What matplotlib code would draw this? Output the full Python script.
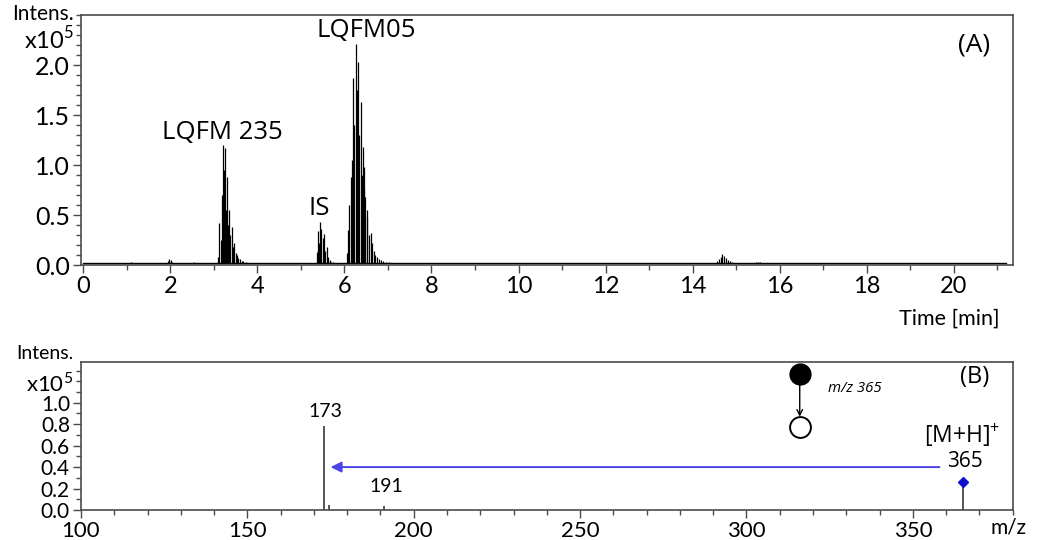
import matplotlib
matplotlib.use("Agg")
import matplotlib.pyplot as plt
from matplotlib.ticker import MultipleLocator

# ---------------- data (A) chromatogram, intensities in 1e5 ----------------
baseline_level = 0.022
trace_start, trace_end = 0.0, 21.2

minor_times = [1.10, 1.95, 1.98, 2.01, 2.04, 2.55, 14.55, 14.60, 14.64, 14.68,
               14.72, 14.76, 14.80, 14.85, 14.90, 15.45, 15.50, 15.55]
minor_vals = [0.030, 0.045, 0.060, 0.050, 0.035, 0.030, 0.045, 0.060, 0.080, 0.110,
              0.090, 0.070, 0.055, 0.040, 0.032, 0.030, 0.032, 0.030]

lqfm235_times = [3.10, 3.13, 3.16, 3.19, 3.22, 3.24, 3.26, 3.28, 3.31, 3.33, 3.36,
                 3.38, 3.41, 3.44, 3.47, 3.50, 3.53, 3.56, 3.60, 3.64, 3.68, 3.73]
lqfm235_vals = [0.08, 0.42, 0.25, 0.70, 1.20, 0.95, 1.17, 0.55, 0.88, 0.40, 0.55,
                0.30, 0.38, 0.18, 0.22, 0.12, 0.10, 0.07, 0.06, 0.045, 0.04, 0.03]

is_times = [5.36, 5.39, 5.42, 5.45, 5.47, 5.50, 5.53, 5.56, 5.59, 5.62, 5.66, 5.70, 5.74]
is_vals = [0.13, 0.34, 0.22, 0.43, 0.36, 0.27, 0.31, 0.14, 0.18, 0.08, 0.05, 0.035, 0.03]

lqfm05_times = [6.06, 6.08, 6.11, 6.14, 6.17, 6.20, 6.23, 6.27, 6.29, 6.31, 6.34,
                6.37, 6.40, 6.42, 6.44, 6.46, 6.48, 6.51, 6.53, 6.56, 6.60, 6.64,
                6.67, 6.71, 6.75, 6.79, 6.84, 6.89, 6.95, 7.02]
lqfm05_vals = [0.12, 0.35, 0.60, 0.88, 1.05, 1.87, 1.40, 2.21, 1.75, 2.03, 1.30,
               1.63, 0.90, 1.18, 0.75, 0.98, 0.68, 0.55, 0.48, 0.30, 0.32, 0.22,
               0.14, 0.10, 0.08, 0.06, 0.05, 0.04, 0.035, 0.03]

# ---------------- data (B) MS/MS spectrum, intensities in 1e5 ----------------
mz_values = [173.0, 174.5, 191.0, 365.0]
mz_intens = [0.78, 0.05, 0.04, 0.26]
precursor_mz = 365.0
precursor_int = 0.26

top_xticks = [0, 2, 4, 6, 8, 10, 12, 14, 16, 18, 20]
top_yticks = [0.0, 0.5, 1.0, 1.5, 2.0]
bot_xticks = [100, 150, 200, 250, 300, 350]
bot_yticks = [0.0, 0.2, 0.4, 0.6, 0.8, 1.0]

# ---------------- figure ----------------
TICKFONT = "Lato"
ANNFONT = "Open Sans"
spine_col = "#4a4a4a"

fig = plt.figure(figsize=(10.44, 5.40), dpi=100)
axA = fig.add_axes([0.0776, 0.509, 0.8924, 0.463])
axB = fig.add_axes([0.0776, 0.0556, 0.8924, 0.274])

for ax in (axA, axB):
    for s in ax.spines.values():
        s.set_color(spine_col)
        s.set_linewidth(1.2)
    ax.tick_params(which="both", direction="out", color=spine_col, width=1.0)
    ax.tick_params(which="major", length=6)
    ax.tick_params(which="minor", length=3.5)

# ----- panel A -----
axA.set_xlim(-0.05, 21.35)
axA.set_ylim(0, 2.5)
axA.plot([trace_start, trace_end], [baseline_level, baseline_level], color="black", lw=1.0)
for t_list, v_list in ((minor_times, minor_vals), (lqfm235_times, lqfm235_vals),
                       (is_times, is_vals), (lqfm05_times, lqfm05_vals)):
    axA.vlines(t_list, baseline_level, v_list, color="black", lw=0.9)
axA.set_xticks(top_xticks)
axA.set_xticklabels([str(v) for v in top_xticks], fontfamily=TICKFONT, fontsize=17)
axA.xaxis.set_minor_locator(MultipleLocator(1))
axA.set_yticks(top_yticks)
axA.set_yticklabels([f"{v:.1f}" for v in top_yticks], fontfamily=TICKFONT, fontsize=18)
axA.yaxis.set_minor_locator(MultipleLocator(0.1))
axA.tick_params(axis="x", pad=2)
axA.tick_params(axis="y", pad=2)

axA.text(-0.008, 1.005, "Intens.", transform=axA.transAxes, ha="right", va="center",
         fontfamily=TICKFONT, fontsize=15)
axA.text(-0.008, 0.905, r"x10$^{\mathregular{5}}$", transform=axA.transAxes, ha="right",
         va="center", fontfamily=TICKFONT, fontsize=17)
axA.text(3.2, 1.33, "LQFM 235", ha="center", va="center", fontfamily=ANNFONT, fontsize=18.5)
axA.text(5.43, 0.57, "IS", ha="center", va="center", fontfamily=ANNFONT, fontsize=18.5)
axA.text(6.5, 2.35, "LQFM05", ha="center", va="center", fontfamily=ANNFONT, fontsize=18.5)
axA.text(20.46, 2.2, "(A)", ha="center", va="center", fontfamily=ANNFONT, fontsize=19)
fig.text(1000 / 1044, 1 - 319 / 540, "Time [min]", ha="right", va="center",
         fontfamily=TICKFONT, fontsize=15.5)

# ----- panel B -----
axB.set_xlim(100, 380)
axB.set_ylim(0, 1.38)
axB.vlines(mz_values, 0, mz_intens, color="#555555", lw=1.4)
axB.plot([precursor_mz], [precursor_int], marker="D", color="#1010d0", markersize=5,
         linestyle="none")
axB.set_xticks(bot_xticks)
axB.set_xticklabels([str(v) for v in bot_xticks], fontfamily=TICKFONT, fontsize=16)
axB.xaxis.set_minor_locator(MultipleLocator(10))
axB.set_yticks(bot_yticks)
axB.set_yticklabels([f"{v:.1f}" for v in bot_yticks], fontfamily=TICKFONT, fontsize=15)
axB.yaxis.set_minor_locator(MultipleLocator(0.1))
axB.tick_params(axis="x", pad=2)
axB.tick_params(axis="y", pad=2)

axB.text(-0.008, 1.055, "Intens.", transform=axB.transAxes, ha="right", va="center",
         fontfamily=TICKFONT, fontsize=14)
axB.text(-0.008, 0.855, r"x10$^{\mathregular{5}}$", transform=axB.transAxes, ha="right",
         va="center", fontfamily=TICKFONT, fontsize=16)

axB.annotate("", xy=(175, 0.40), xytext=(358, 0.40),
             arrowprops=dict(arrowstyle="-|>", color="#4b44e6", lw=1.4,
                             mutation_scale=16, shrinkA=0, shrinkB=0))
axB.text(173.3, 0.92, "173", ha="center", va="center", fontfamily=TICKFONT, fontsize=14)
axB.text(191.8, 0.22, "191", ha="center", va="center", fontfamily=TICKFONT, fontsize=14)
axB.text(364.7, 0.70, r"[M+H]$^{\mathregular{+}}$", ha="center", va="center",
         fontfamily=ANNFONT, fontsize=16.5)
axB.text(365.6, 0.45, "365", ha="center", va="center", fontfamily=ANNFONT, fontsize=15)
axB.text(368.6, 1.24, "(B)", ha="center", va="center", fontfamily=ANNFONT, fontsize=17)

# precursor -> product scheme
axB.plot([316], [1.27], marker="o", color="black", markersize=15, linestyle="none")
axB.plot([316], [0.77], marker="o", markerfacecolor="white", markeredgecolor="black",
         markersize=15, markeredgewidth=1.4, linestyle="none")
axB.annotate("", xy=(316, 0.87), xytext=(316, 1.17),
             arrowprops=dict(arrowstyle="->", color="black", lw=1.0, shrinkA=0, shrinkB=0))
axB.text(324.6, 1.13, "m/z 365", ha="left", va="center", fontfamily=ANNFONT,
         fontsize=10.8, style="italic")
fig.text(1008 / 1044, 1 - 527 / 540, "m/z", ha="center", va="center",
         fontfamily=TICKFONT, fontsize=15)

fig.savefig("out.png", dpi=100)
